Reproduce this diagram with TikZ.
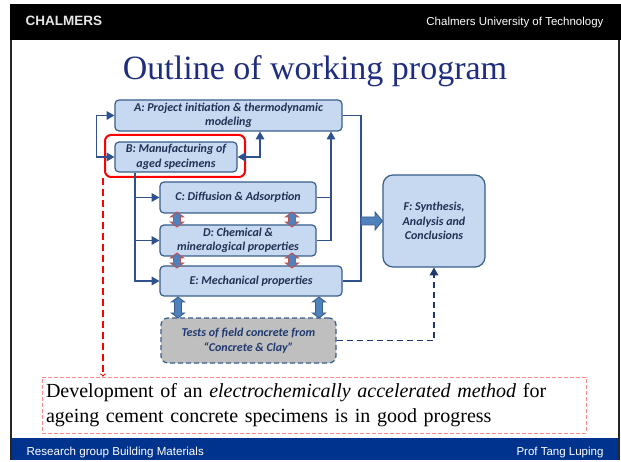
\documentclass[tikz,border=0pt]{standalone}
\usepackage{fontspec}
\setmainfont{Liberation Serif}
\setsansfont{Liberation Sans}
\newfontfamily\boxfont{Carlito}
\usetikzlibrary{arrows}

\definecolor{slidenavy}{RGB}{0,51,141}
\definecolor{titleblue}{RGB}{31,45,128}
\definecolor{boxfill}{RGB}{198,217,241}
\definecolor{boxline}{RGB}{56,93,138}
\definecolor{boxtext}{RGB}{33,48,84}
\definecolor{linkblue}{RGB}{47,82,143}
\definecolor{darknavy}{RGB}{31,56,110}
\definecolor{arrowfill}{RGB}{79,129,189}
\definecolor{arrowred}{RGB}{192,80,77}
\definecolor{testgrey}{RGB}{191,191,191}

\tikzset{
  task/.style={draw=boxline, fill=boxfill, line width=1.2pt, rounded corners=4pt,
    inner sep=0pt, align=center, text=boxtext,
    font=\boxfont\bfseries\itshape\fontsize{12}{14.5}\selectfont},
  link/.style={draw=linkblue, line width=1.1pt},
  redtwin/.style={fill=arrowfill, draw=arrowred, line width=0.9pt},
  bluetwin/.style={fill=arrowfill, draw=boxline, line width=0.9pt}
}

% vertical two-headed block arrow: style, x, top y, bottom y
\newcommand{\updown}[4]{%
  \filldraw[#1] (#2,#3) -- ++(6.5,5) -- ++(-3,0) -- ({#2+3.5},{#4-5}) -- ++(3,0)
    -- (#2,#4) -- ++(-6.5,-5) -- ++(3,0) -- ({#2-3.5},{#3+5}) -- ++(-3,0) -- cycle;}

\begin{document}
\begin{tikzpicture}[x=1pt,y=-1pt]
  \useasboundingbox (0,0) rectangle (621,462);
  % Slide frame.
  \fill[black] (10,4) rectangle (621,40);
  \fill[slidenavy] (12,438) rectangle (619,460);
  \draw[line width=1.5pt, black!85] (11,40) -- (11,460) (619,40) -- (619,460);
  \node[anchor=base west, text=white!90!black, font=\sffamily\bfseries\fontsize{13.5}{16}\selectfont] (brand) at (22,26) {CHALMERS};
  \node[anchor=base east, text=white, font=\sffamily\fontsize{11.5}{13}\selectfont] (uni) at (607,26) {Chalmers University of Technology};
  \node[anchor=base west, text=white, font=\sffamily\fontsize{11.6}{13}\selectfont] (group) at (23,455) {Research group Building Materials};
  \node[anchor=base east, text=white, font=\sffamily\fontsize{11.5}{13}\selectfont] (prof) at (607,455) {Prof Tang Luping};
  \node[anchor=base, text=titleblue, font=\fontsize{34}{40}\selectfont] (title) at (315,80) {Outline of working program};

  % Work packages.
  \node[task, minimum width=227, minimum height=31] (A) at (228.5,115.5) {A: Project initiation \& thermodynamic\\modeling};
  \node[task, minimum width=122, minimum height=30] (B) at (176,157) {B: Manufacturing of\\aged specimens};
  \node[draw=red, line width=2pt, rounded corners=6pt, minimum width=140, minimum height=42] (focus) at (175,156) {};
  \node[task, minimum width=156, minimum height=31] (C) at (238,197.5) {C: Diffusion \& Adsorption};
  \node[task, minimum width=156, minimum height=31] (D) at (238,240.5) {D: Chemical \&\\mineralogical properties};
  \node[task, minimum width=182, minimum height=30] (E) at (251,281) {E: Mechanical properties};
  \node[task, rounded corners=10pt, minimum width=102, minimum height=92] (F) at (434,221) {F: Synthesis,\\Analysis and\\Conclusions};
  \node[task, fill=testgrey, dashed, dash pattern=on 5pt off 3pt, rounded corners=7pt, text=darknavy,
    minimum width=175, minimum height=45] (T) at (248.5,340.5) {Tests of field concrete from\\“Concrete \& Clay”};

  % Links between packages.
  \draw[link, triangle 60-triangle 60] (A.west) -- ++(-18,0) |- (B.west);
  \draw[link, triangle 60-triangle 60] (B.east) -| (260,0 |- A.south);
  \coordinate (trunk) at (135,0 |- B.south);
  \draw[link, -triangle 60] (trunk) |- (C.west);
  \draw[link, -triangle 60] (trunk) |- (D.west);
  \draw[link, -triangle 60] (trunk) |- (E.west);
  \draw[link] (C.east) -- (331,0 |- C.east);
  \draw[link, -triangle 60] (D.east) -| (331,0 |- A.south);
  \draw[link] (A.east) -| (361,0 |- E.east) -- (E.east);
  \filldraw[bluetwin] (361,217) -- (375,217) -- (375,212) -- (F.west) -- (375,230) -- (375,225) -- (361,225) -- cycle;
  \draw[link, draw=darknavy, dashed, dash pattern=on 6pt off 4pt, -triangle 60] (T.east) -| (F.south);

  % Exchange between C, D, E and the field tests.
  \updown{redtwin}{177}{212}{227}
  \updown{redtwin}{292}{212}{227}
  \updown{redtwin}{177}{253}{268}
  \updown{redtwin}{292}{253}{268}
  \updown{bluetwin}{178}{297}{318}
  \updown{bluetwin}{319}{297}{318}

  % Progress note.
  \node[draw=red!45, dashed, dash pattern=on 4pt off 2pt, line width=0.6pt, minimum width=544, minimum height=56, text width=536,
    align=left, inner sep=4pt, font=\fontsize{20}{25}\selectfont] (note) at (314,405)
    {Development of an \textit{electrochemically accelerated method} for\\ageing cement concrete specimens is in good progress};
  \draw[red, dash pattern=on 7pt off 4pt, line width=1.1pt, ->] (103,0 |- focus.south) -- (103,0 |- note.north);
\end{tikzpicture}
\end{document}
